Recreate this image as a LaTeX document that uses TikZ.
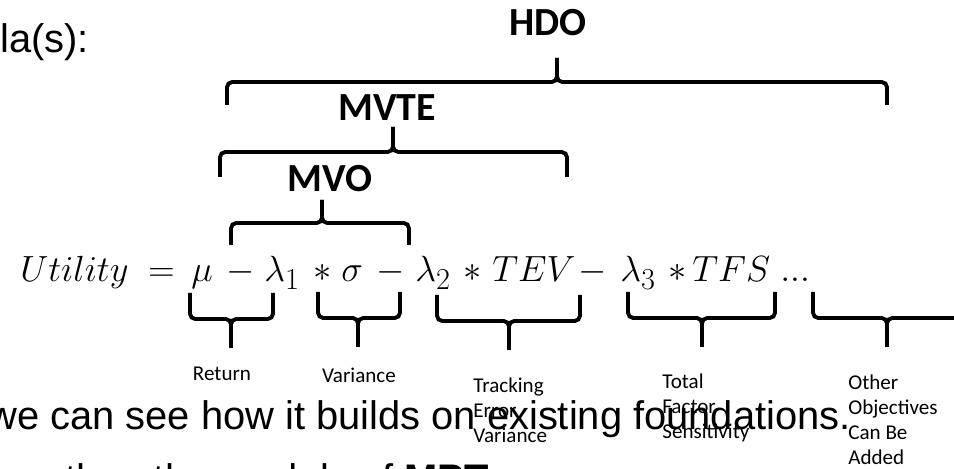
\documentclass[tikz,border=0pt]{standalone}
\usepackage[no-math]{fontspec}
\setmainfont{Liberation Sans}
\newfontfamily\calfont{Carlito}
\usepackage{amsmath}
\usetikzlibrary{positioning}
\tikzset{
  brace/.style={line width=2.2pt, rounded corners=3pt},
  toplabel/.style={inner sep=0pt, font=\calfont\bfseries\fontsize{22.7}{27}\selectfont},
  sublabel/.style={inner sep=0pt, align=left, font=\calfont\fontsize{12}{14.2}\selectfont},
  body/.style={inner sep=0pt, anchor=base west, font=\fontsize{22.7}{27}\selectfont},
  term/.style={inner sep=0pt, anchor=base west, font=\fontsize{22.7}{27}\selectfont}
}

\begin{document}
\begin{tikzpicture}[x=0.02cm,y=-0.02cm]
\useasboundingbox (0,0) rectangle (954,469);
\clip (0,0) rectangle (954,469);

\node[body] (head) at (0,53) {la(s):};

% the formula, one term at a time
\node[term] (util) at (20,282) {$Utility$};
\node[term] (eq) at (148,282) {$=$};
\node[term] (mu) at (191,282) {$\mu$};
\node[term] (minus1) at (226,282) {$-$};
\node[term] (lam1) at (264,282) {$\lambda_1$};
\node[term] (ast1) at (313,282) {$*$};
\node[term] (sigma) at (341,282) {$\sigma$};
\node[term] (minus2) at (376,282) {$-$};
\node[term] (lam2) at (415,282) {$\lambda_2$};
\node[term] (ast2) at (463,282) {$*$};
\node[term] (tev) at (492,282) {$TEV$};
\node[term] (minus3) at (578,282) {$-$};
\node[term] (lam3) at (620,282) {$\lambda_3$};
\node[term] (ast3) at (668,282) {$*$};
\node[term] (tfs) at (692,282) {$TFS$};
\node[term] (dots) at (780,282) {$...$};

% braces over the formula
\draw[brace] (227,105) |- (557,82) -- (557,58);
\draw[brace] (887,105) |- (557,82) -- (557,58);
\node[toplabel] (hdo) at (548,23) {HDO};

\draw[brace] (220,177) |- (393,152) -- (393,127);
\draw[brace] (567,177) |- (393,152) -- (393,127);
\node[toplabel] (mvte) at (387,108) {MVTE};

\draw[brace] (231,245) |- (322,223) -- (322,200);
\draw[brace] (409,245) |- (322,223) -- (322,200);
\node[toplabel] (mvo) at (330,179) {MVO};

% braces under the formula
\draw[brace] (190,293) |- (231,319) -- (231,348);
\draw[brace] (273,293) |- (231,319) -- (231,348);
\node[sublabel,anchor=base] (ret) at (222,381) {Return};

\draw[brace] (318,292) |- (358,318) -- (358,347);
\draw[brace] (400,292) |- (358,318) -- (358,347);
\node[sublabel,anchor=base] (var) at (359,383) {Variance};

\draw[brace] (437,295) |- (509,321) -- (509,350);
\draw[brace] (580,295) |- (509,321) -- (509,350);
\node[sublabel,anchor=north west] (tevlabel) at (473,378) {Tracking\\Error\\Variance};

\draw[brace] (628,292) |- (702,318) -- (702,347);
\draw[brace] (775,292) |- (702,318) -- (702,347);
\node[sublabel,anchor=north west] (tfslabel) at (662,374) {Total\\Factor\\Sensitivity};

\draw[brace] (813,292) |- (887,318) -- (887,347);
\draw[brace] (975,292) |- (887,318) -- (887,347);
\node[sublabel,anchor=north west] (other) at (848,375) {Other\\Objectives\\Can Be\\Added};

\node[body] (line) at (-12,430) {we can see how it builds on existing foundations.};
\node[body] (nextline) at (-37,493) {more than the models of \textbf{MPT}};

\end{tikzpicture}
\end{document}
